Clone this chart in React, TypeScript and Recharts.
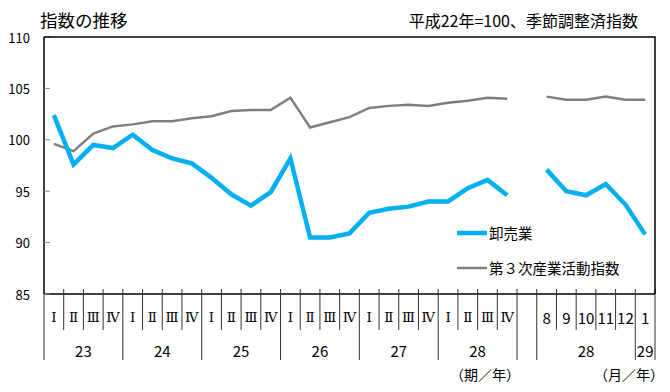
import { LineChart, Line, XAxis, YAxis, Legend } from 'recharts'

const periodLabels = [
  'Ⅰ', 'Ⅱ', 'Ⅲ', 'Ⅳ', 'Ⅰ', 'Ⅱ', 'Ⅲ', 'Ⅳ', 'Ⅰ', 'Ⅱ', 'Ⅲ', 'Ⅳ',
  'Ⅰ', 'Ⅱ', 'Ⅲ', 'Ⅳ', 'Ⅰ', 'Ⅱ', 'Ⅲ', 'Ⅳ', 'Ⅰ', 'Ⅱ', 'Ⅲ', 'Ⅳ',
  '', '8', '9', '10', '11', '12', '1',
]
const yearLabels = ['23', '24', '25', '26', '27', '28', '', '28', '29']
const yearSpans = [4, 4, 4, 4, 4, 4, 1, 5, 1]

const wholesale = [
  102.4, 97.6, 99.5, 99.2, 100.5, 99.0, 98.2, 97.7, 96.3, 94.7, 93.6, 94.9,
  98.2, 90.5, 90.5, 90.9, 92.9, 93.3, 93.5, 94.0, 94.0, 95.3, 96.1, 94.6,
  null, 97.1, 95.0, 94.6, 95.7, 93.7, 90.8,
]
const tertiary = [
  99.6, 98.9, 100.6, 101.3, 101.5, 101.8, 101.8, 102.1, 102.3, 102.8, 102.9, 102.9,
  104.1, 101.2, 101.7, 102.2, 103.1, 103.3, 103.4, 103.3, 103.6, 103.8, 104.1, 104.0,
  null, 104.2, 103.9, 103.9, 104.2, 103.9, 103.9,
]
const yTicks = [85, 90, 95, 100, 105, 110]

const data = periodLabels.map((p, i) => ({
  cat: i,
  wholesale: wholesale[i],
  tertiary: tertiary[i],
}))

const W = 670
const H = 392
const margin = { top: 37, right: 15, left: 0, bottom: 0 }
const yAxisWidth = 44
const xAxisHeight = 98
const plotW = W - margin.left - margin.right - yAxisWidth
const plotH = H - margin.top - margin.bottom - xAxisHeight
const step = plotW / periodLabels.length

const JP = '"Noto Sans CJK JP", "Noto Sans", sans-serif'
const SERIF = '"DejaVu Serif", "Liberation Serif", serif'

// where year groups start / end (separator lines run down to the second row)
const groupEdges = new Set<number>()
const groupLabelAt: Record<number, { label: string; span: number }> = {}
{
  let acc = 0
  groupEdges.add(0)
  yearSpans.forEach((s, k) => {
    groupLabelAt[acc] = { label: yearLabels[k], span: s }
    acc += s
    groupEdges.add(acc)
  })
}

function XTick({ x, y, payload }: any) {
  const i = payload.index
  const left = x - step / 2
  const label = periodLabels[i]
  const roman = /[Ⅰ-Ⅻ]/.test(label)
  const grp = groupLabelAt[i]
  const sepColor = '#333'
  return (
    <g>
      <line x1={left} x2={left} y1={y - 5} y2={groupEdges.has(i) ? y + 66 : y + 36} stroke={sepColor} strokeWidth={1} />
      {i === periodLabels.length - 1 && (
        <line x1={x + step / 2} x2={x + step / 2} y1={y - 5} y2={y + 66} stroke={sepColor} strokeWidth={1} />
      )}
      <text
        x={x}
        y={y + 23}
        textAnchor="middle"
        dominantBaseline="central"
        fontFamily={roman ? SERIF : JP}
        fontSize={roman ? 13.5 : 15}
        fill="#000"
      >
        {label}
      </text>
      {grp && grp.label && (
        <text
          x={left + (grp.span * step) / 2}
          y={y + 56}
          textAnchor="middle"
          dominantBaseline="central"
          fontFamily={JP}
          fontSize={15}
          fill="#000"
        >
          {grp.label}
        </text>
      )}
    </g>
  )
}

function YTick({ x, y, payload }: any) {
  return (
    <g>
      <line x1={x} x2={x + 6} y1={y} y2={y} stroke="#888" strokeWidth={1} />
      <text x={x - 14} y={y} textAnchor="end" dominantBaseline="central" fontFamily={JP} fontSize={13} fill="#000">
        {payload.value}
      </text>
    </g>
  )
}

const legendOrder = ['wholesale', 'tertiary']
const legendWidth: Record<string, number> = { wholesale: 4.5, tertiary: 2.5 }

function LegendContent({ payload }: any) {
  const items = [...(payload || [])].sort(
    (a: any, b: any) => legendOrder.indexOf(a.dataKey) - legendOrder.indexOf(b.dataKey)
  )
  return (
    <div style={{ fontFamily: JP, fontSize: 14.5, color: '#000' }}>
      {items.map((it: any) => (
        <div key={it.dataKey} style={{ display: 'flex', alignItems: 'center', height: 35 }}>
          <svg width={32} height={10}>
            <line x1={0} x2={30} y1={5} y2={5} stroke={it.color} strokeWidth={legendWidth[it.dataKey]} />
          </svg>
          <span>{it.value}</span>
        </div>
      ))}
    </div>
  )
}

const frameLeft = margin.left + yAxisWidth
const frameRight = frameLeft + plotW
const frameTop = margin.top
const frameBottom = margin.top + plotH

export default function App() {
  return (
    <div style={{ position: 'absolute', left: 0, top: 0, width: W, height: H, background: '#fff' }}>
      <LineChart width={W} height={H} data={data} margin={margin}>
        <XAxis
          dataKey="cat"
          scale="band"
          height={xAxisHeight}
          interval={0}
          tickSize={0}
          tickMargin={0}
          tick={<XTick />}
          axisLine={{ stroke: '#000', strokeWidth: 1.5 }}
        />
        <YAxis
          domain={[85, 110]}
          ticks={yTicks}
          width={yAxisWidth}
          tickSize={0}
          tickMargin={0}
          tick={<YTick />}
          axisLine={{ stroke: '#000', strokeWidth: 1.5 }}
        />
        <Legend
          layout="vertical"
          align="center"
          verticalAlign="middle"
          wrapperStyle={{ left: 457, top: 215, width: 200 }}
          content={<LegendContent />}
        />
        <Line
          dataKey="tertiary"
          name="第３次産業活動指数"
          stroke="#7F7F7F"
          strokeWidth={2.5}
          dot={false}
          activeDot={false}
          isAnimationActive={false}
        />
        <Line
          dataKey="wholesale"
          name="卸売業"
          stroke="#00B0F0"
          strokeWidth={4.5}
          dot={false}
          activeDot={false}
          isAnimationActive={false}
        />
      </LineChart>
      {/* plot frame: top and right edges */}
      <svg
        width={W}
        height={H}
        style={{ position: 'absolute', left: 0, top: 0, pointerEvents: 'none' }}
      >
        <polyline
          points={`${frameLeft},${frameTop} ${frameRight},${frameTop} ${frameRight},${frameBottom}`}
          fill="none"
          stroke="#000"
          strokeWidth={1.5}
        />
      </svg>
      <div style={{ position: 'absolute', left: 40, top: 11, fontFamily: JP, fontSize: 17.5, lineHeight: 1 }}>
        指数の推移
      </div>
      <div style={{ position: 'absolute', right: 32, top: 12, fontFamily: JP, fontSize: 16, lineHeight: 1 }}>
        平成22年=100、季節調整済指数
      </div>
      <div style={{ position: 'absolute', left: 450, top: 367, fontFamily: JP, fontSize: 14, lineHeight: 1 }}>
        （期／年）
      </div>
      <div style={{ position: 'absolute', left: 594, top: 367, fontFamily: JP, fontSize: 14, lineHeight: 1 }}>
        （月／年）
      </div>
    </div>
  )
}
